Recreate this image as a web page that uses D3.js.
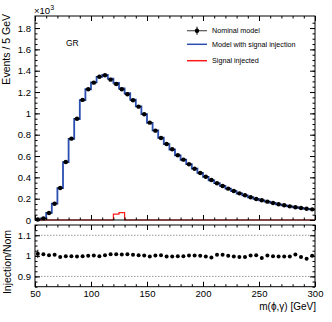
<!DOCTYPE html>
<html>
<head>
<meta charset="utf-8">
<script src="https://cdn.jsdelivr.net/npm/d3@7"></script>
<style>
  body { margin: 0; background: #fff; }
  svg { font-family: "Liberation Sans", Arial, sans-serif; }
  .axis path { display: none; }
  .axis line { stroke: #000; stroke-width: 1; }
  .axis text { font-size: 9.5px; fill: #000; }
</style>
</head>
<body>
<div class="chart"></div>
<script>
// bin lower edges, 5 GeV bins from 50 to 300
const binLow = d3.range(50, 300, 5);

// nominal model, events / 5 GeV (x10^3)
const nominal = [
  0.005, 0.015, 0.066, 0.153, 0.300, 0.544, 0.763, 0.950, 1.126, 1.226,
  1.288, 1.344, 1.357, 1.316, 1.275, 1.226, 1.179, 1.123, 1.063, 0.991,
  0.913, 0.838, 0.769, 0.713, 0.663, 0.607, 0.566, 0.523, 0.481, 0.441,
  0.406, 0.375, 0.344, 0.319, 0.294, 0.272, 0.250, 0.232, 0.213, 0.197,
  0.185, 0.172, 0.160, 0.147, 0.138, 0.128, 0.119, 0.113, 0.106, 0.100
];

// injection / nominal
const ratio = [
  1.010, 1.008, 1.003, 1.005, 0.995, 0.998, 0.998, 0.997, 0.998, 1.000,
  1.002, 0.998, 1.003, 1.008, 1.008, 1.006, 1.008, 1.005, 1.003, 1.002,
  0.997, 1.002, 1.003, 0.997, 0.997, 0.998, 0.998, 1.002, 1.002, 1.000,
  0.997, 0.992, 1.005, 1.005, 1.000, 0.997, 0.994, 0.995, 1.002, 1.003,
  0.990, 1.002, 0.998, 0.997, 0.997, 0.997, 1.006, 0.995, 0.986, 1.000
];
const ratioErr = [0.02, 0.006, 0.003];

// injected signal (x10^3)
const signal = [
  0, 0, 0, 0, 0, 0, 0, 0, 0, 0,
  0, 0, 0, 0, 0.055, 0.070, 0, 0, 0, 0,
  0, 0, 0, 0, 0, 0, 0, 0, 0, 0,
  0, 0, 0, 0, 0, 0, 0, 0, 0, 0,
  0, 0, 0, 0, 0, 0, 0, 0, 0, 0
];

const xTicks     = [50, 100, 150, 200, 250, 300];
const yTicks     = [0, 0.2, 0.4, 0.6, 0.8, 1, 1.2, 1.4, 1.6, 1.8];
const ratioTicks = [0.9, 1, 1.1];
const legendText = ['Nominal model', 'Model with signal injection', 'Signal injected'];

const blue = '#2a4fb0';
const red  = '#ff1a1a';

const svg = d3.select('.chart').append('svg').attr('width', 332).attr('height', 322);

const x    = d3.scaleLinear().domain([50, 300]).range([35, 315]);
const yTop = d3.scaleLinear().domain([0, 1.913]).range([220, 16]);
const yRat = d3.scaleLinear().domain([0.85, 1.15]).range([286.7, 225]);

const binW = 5;
const minorX = d3.range(50, 301, 10);

function stepData(values) {
  const pts = values.map((v, i) => [binLow[i], v]);
  pts.push([binLow[binLow.length - 1] + binW, values[values.length - 1]]);
  return pts;
}

function frameAxes(y, top, bottom, majorY, minorY, fmt, xLabels) {
  const g = svg.append('g');
  // left
  g.append('g').attr('class', 'axis').attr('transform', 'translate(35,0)')
    .call(d3.axisLeft(y).tickValues(majorY).tickSize(-5).tickPadding(4).tickFormat(fmt));
  g.append('g').attr('class', 'axis').attr('transform', 'translate(35,0)')
    .call(d3.axisLeft(y).tickValues(minorY).tickSize(-2.5).tickFormat(''));
  // right
  g.append('g').attr('class', 'axis').attr('transform', 'translate(315,0)')
    .call(d3.axisRight(y).tickValues(majorY).tickSize(-5).tickFormat(''));
  g.append('g').attr('class', 'axis').attr('transform', 'translate(315,0)')
    .call(d3.axisRight(y).tickValues(minorY).tickSize(-2.5).tickFormat(''));
  // top
  g.append('g').attr('class', 'axis').attr('transform', `translate(0,${top})`)
    .call(d3.axisTop(x).tickValues(xTicks).tickSize(-5).tickFormat(''));
  g.append('g').attr('class', 'axis').attr('transform', `translate(0,${top})`)
    .call(d3.axisTop(x).tickValues(minorX).tickSize(-2.5).tickFormat(''));
  // bottom
  g.append('g').attr('class', 'axis').attr('transform', `translate(0,${bottom})`)
    .call(d3.axisBottom(x).tickValues(xTicks).tickSize(-5).tickPadding(4)
      .tickFormat(xLabels ? d3.format('d') : ''));
  g.append('g').attr('class', 'axis').attr('transform', `translate(0,${bottom})`)
    .call(d3.axisBottom(x).tickValues(minorX).tickSize(-2.5).tickFormat(''));

  g.append('rect')
    .attr('x', 35).attr('y', top).attr('width', 280).attr('height', bottom - top)
    .attr('fill', 'none').attr('stroke', '#000').attr('stroke-width', 1);
}

// ---- top panel ----
const stepTop = d3.line().x(d => x(d[0])).y(d => yTop(d[1])).curve(d3.curveStepAfter);

const injected = nominal.map((v, i) => v * ratio[i]);

svg.append('path').datum(stepData(injected)).attr('d', stepTop)
  .attr('fill', 'none').attr('stroke', blue).attr('stroke-width', 1.8);

svg.append('path').datum(stepData(signal)).attr('d', stepTop)
  .attr('fill', 'none').attr('stroke', red).attr('stroke-width', 1.2);

const pts = svg.append('g');
pts.selectAll('line.xerr').data(nominal).enter().append('line')
  .attr('x1', (d, i) => x(binLow[i])).attr('x2', (d, i) => x(binLow[i] + binW))
  .attr('y1', d => yTop(d)).attr('y2', d => yTop(d))
  .attr('stroke', '#000').attr('stroke-width', 1);
pts.selectAll('circle').data(nominal).enter().append('circle')
  .attr('cx', (d, i) => x(binLow[i] + binW / 2))
  .attr('cy', d => yTop(d))
  .attr('r', 2.2).attr('fill', '#000');

frameAxes(yTop, 16, 220, yTicks, d3.range(0, 1.9, 0.05), d3.format('~g'), false);

// ---- ratio panel ----
svg.selectAll('line.grid').data([0.9, 1.1]).enter().append('line')
  .attr('x1', 35).attr('x2', 315)
  .attr('y1', d => yRat(d)).attr('y2', d => yRat(d))
  .attr('stroke', '#999').attr('stroke-width', 1).attr('stroke-dasharray', '1.5,1.5');

svg.selectAll('line.rerr').data(ratioErr).enter().append('line')
  .attr('x1', (d, i) => x(binLow[i] + binW / 2)).attr('x2', (d, i) => x(binLow[i] + binW / 2))
  .attr('y1', (d, i) => yRat(ratio[i] - d)).attr('y2', (d, i) => yRat(ratio[i] + d))
  .attr('stroke', '#000').attr('stroke-width', 1);

svg.selectAll('circle.rat').data(ratio).enter().append('circle')
  .attr('cx', (d, i) => x(binLow[i] + binW / 2))
  .attr('cy', d => yRat(d))
  .attr('r', 2).attr('fill', '#000');

frameAxes(yRat, 225, 286.7, ratioTicks, d3.range(0.85, 1.151, 0.025), d3.format('~g'), true);

// ---- texts ----
const mult = svg.append('text').attr('x', 34).attr('y', 14).attr('font-size', 9.5).text('\u00d710');
mult.append('tspan').attr('dy', -4).attr('font-size', 7).text('3');

svg.append('text')
  .attr('transform', 'translate(10,14) rotate(-90)')
  .attr('text-anchor', 'end').attr('font-size', 10.5)
  .text('Events / 5 GeV');

svg.append('text')
  .attr('transform', 'translate(11,262) rotate(-90)')
  .attr('text-anchor', 'middle').attr('font-size', 10.5)
  .text('Injection/Nom');

svg.append('text')
  .attr('x', 316).attr('y', 310).attr('text-anchor', 'end').attr('font-size', 10)
  .text('m(\u03d5,\u03b3) [GeV]');

svg.append('text').attr('x', 66).attr('y', 46).attr('font-size', 8.5).text('GR');

// ---- legend ----
const leg = svg.append('g');
const rowY = [30.7, 44.3, 60.7];

leg.append('line').attr('x1', 187).attr('x2', 207).attr('y1', rowY[0]).attr('y2', rowY[0])
  .attr('stroke', '#555').attr('stroke-width', 1.2);
leg.append('line').attr('x1', 197).attr('x2', 197).attr('y1', rowY[0] - 4).attr('y2', rowY[0] + 4)
  .attr('stroke', '#000').attr('stroke-width', 1);
leg.append('circle').attr('cx', 197).attr('cy', rowY[0]).attr('r', 2.2).attr('fill', '#000');

leg.append('line').attr('x1', 187).attr('x2', 207).attr('y1', rowY[1]).attr('y2', rowY[1])
  .attr('stroke', blue).attr('stroke-width', 1.5);
leg.append('line').attr('x1', 187).attr('x2', 207).attr('y1', rowY[2]).attr('y2', rowY[2])
  .attr('stroke', red).attr('stroke-width', 1.5);

leg.selectAll('text').data(legendText).enter().append('text')
  .attr('x', 212).attr('y', (d, i) => rowY[i] + 2.5)
  .attr('font-size', 7.2)
  .text(d => d);
</script>
</body>
</html>
